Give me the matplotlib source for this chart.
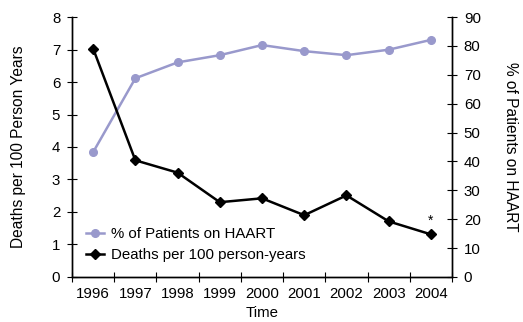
import numpy as np
import matplotlib.pyplot as plt
from matplotlib.ticker import FixedLocator, NullFormatter

plt.rcParams['font.family'] = ['Liberation Sans', 'DejaVu Sans']

# --- Data ---
years = ['1996', '1997', '1998', '1999', '2000', '2001', '2002', '2003', '2004']
deaths = [7.03, 3.59, 3.21, 2.30, 2.42, 1.90, 2.51, 1.71, 1.31]
haart_pct = [43.2, 68.8, 74.3, 76.8, 80.3, 78.2, 76.8, 78.7, 82.1]

FS = 10.8
x = np.arange(len(years))

fig = plt.figure(figsize=(5.23, 3.22), dpi=100)
ax = fig.add_axes([0.1377, 0.140, 0.7266, 0.807])
ax2 = ax.twinx()

# --- Lines ---
l1, = ax2.plot(x, haart_pct, color='#9999cc', marker='o', markersize=5.5,
               linewidth=1.8, label='% of Patients on HAART')
l2, = ax.plot(x, deaths, color='black', marker='D', markersize=5.5,
              linewidth=1.8, label='Deaths per 100 person-years')
ax.set_zorder(ax2.get_zorder() + 1)
ax.patch.set_visible(False)

ax.annotate('*', (x[-1], deaths[-1]), xytext=(0, 10), textcoords='offset points',
            ha='center', va='center', fontsize=10)

# --- Axes ---
ax.set_xlim(-0.5, len(years) - 0.5)
ax.set_ylim(0, 8)
ax2.set_ylim(0, 90)
ax.set_yticks(np.arange(0, 9, 1))
ax2.set_yticks(np.arange(0, 91, 10))

ax.xaxis.set_major_locator(FixedLocator(np.arange(-0.5, len(years), 1.0)))
ax.xaxis.set_major_formatter(NullFormatter())
ax.xaxis.set_minor_locator(FixedLocator(x))
ax.set_xticklabels(years, minor=True)
ax.tick_params(axis='x', which='minor', length=0, pad=7, labelsize=FS)
ax.tick_params(axis='x', which='major', direction='inout', length=7)
ax.tick_params(axis='y', direction='inout', length=7, labelsize=FS, pad=5)
ax2.tick_params(axis='y', direction='inout', length=7, labelsize=FS, pad=5)

for a in (ax, ax2):
    a.spines['top'].set_visible(False)
    for s in a.spines.values():
        s.set_linewidth(1.0)

ax.set_xlabel('Time', fontsize=FS)
ax.xaxis.set_label_coords(0.5, -0.112)
ax.set_ylabel('Deaths per 100 Person Years', fontsize=11.2)
ax.yaxis.set_label_coords(-0.120, 0.5)
ax2.set_ylabel('% of Patients on HAART', fontsize=11.2, rotation=270, va='center')
ax2.yaxis.set_label_coords(1.155, 0.5)

ax.legend([l1, l2], [l1.get_label(), l2.get_label()], loc='lower left',
          bbox_to_anchor=(0.0, 0.005), frameon=False, fontsize=FS,
          handlelength=1.2, handletextpad=0.5, labelspacing=0.45)

fig.savefig('out.png', dpi=100)
